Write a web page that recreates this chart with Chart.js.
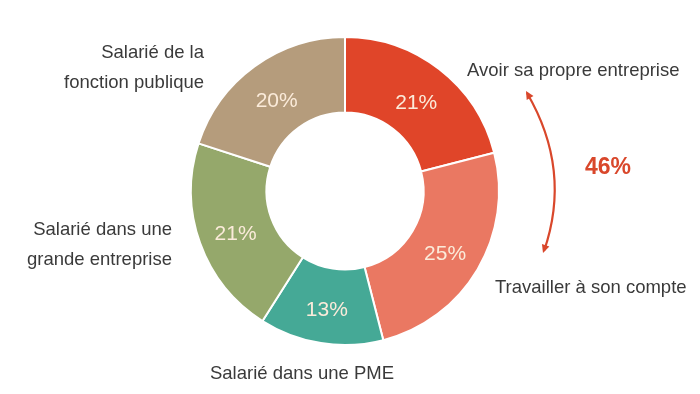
<!DOCTYPE html>
<html>
<head>
<meta charset="utf-8">
<script src="https://cdn.jsdelivr.net/npm/chart.js@4"></script>
<style>
  html, body { margin: 0; padding: 0; background: #fff; }
  #wrap { width: 700px; height: 394px; position: relative; }
</style>
</head>
<body>
<div id="wrap"><canvas id="donut"></canvas></div>
<script>
// --- données du graphique ---
const categories = [
    'Avoir sa propre entreprise',
    'Travailler à son compte',
    'Salarié dans une PME',
    'Salarié dans une grande entreprise',
    'Salarié de la fonction publique'
];
const values = [21, 25, 13, 21, 20];
const sliceColors = ['#E04529', '#EA7862', '#45A996', '#95A86B', '#B59C7C'];
const totalLabel = '46%'; // Avoir + Travailler

// étiquettes extérieures (texte sur plusieurs lignes)
const outsideLabels = [
    { lines: ['Avoir sa propre entreprise'], x: 467, y: 71, align: 'left' },
    { lines: ['Travailler à son compte'], x: 495, y: 288, align: 'left' },
    { lines: ['Salarié dans une PME'], x: 302, y: 374, align: 'center' },
    { lines: ['Salarié dans une', 'grande entreprise'], x: 172, y: 230, align: 'right' },
    { lines: ['Salarié de la', 'fonction publique'], x: 204, y: 53, align: 'right' }
];

const FONT = '"Liberation Sans", Arial, sans-serif';

// plugin : pourcentages + étiquettes + flèche
const labelPlugin = {
    id: 'labelPlugin',
    afterDatasetsDraw(chart) {
        const ctx = chart.ctx;
        const meta = chart.getDatasetMeta(0);
        ctx.save();

        // pourcentages dans les parts
        ctx.font = '21px ' + FONT;
        ctx.fillStyle = '#FBEBDA';
        ctx.textAlign = 'center';
        ctx.textBaseline = 'middle';
        meta.data.forEach((arc, i) => {
            const p = arc.tooltipPosition();
            ctx.fillText(values[i] + '%', p.x, p.y + 4);
        });

        // étiquettes extérieures
        ctx.font = '18.5px ' + FONT;
        ctx.fillStyle = '#3a3a3a';
        outsideLabels.forEach(lbl => {
            ctx.textAlign = lbl.align;
            lbl.lines.forEach((line, j) => {
                ctx.fillText(line, lbl.x, lbl.y + j * 30);
            });
        });

        // flèche courbe rouge
        const red = '#D9472B';
        ctx.strokeStyle = red;
        ctx.fillStyle = red;
        ctx.lineWidth = 2.2;
        const x0 = 527, y0 = 93, x1 = 544, y1 = 251, cx = 572, cy = 170;
        ctx.beginPath();
        ctx.moveTo(x0, y0);
        ctx.quadraticCurveTo(cx, cy, x1, y1);
        ctx.stroke();
        // pointes
        function head(x, y, ang) {
            ctx.beginPath();
            ctx.moveTo(x, y);
            ctx.lineTo(x + 9 * Math.cos(ang + 0.45), y + 9 * Math.sin(ang + 0.45));
            ctx.lineTo(x + 9 * Math.cos(ang - 0.45), y + 9 * Math.sin(ang - 0.45));
            ctx.closePath();
            ctx.fill();
        }
        head(x0 - 1, y0 - 2, Math.atan2(cy - y0, cx - x0));
        head(x1 - 1, y1 + 2, Math.atan2(cy - y1, cx - x1));

        ctx.font = 'bold 23px ' + FONT;
        ctx.textAlign = 'center';
        ctx.fillText(totalLabel, 608, 168);

        ctx.restore();
    }
};

new Chart(document.getElementById('donut'), {
    type: 'doughnut',
    data: {
        labels: categories,
        datasets: [{
            data: values,
            backgroundColor: sliceColors,
            borderColor: '#ffffff',
            borderWidth: 2
        }]
    },
    options: {
        responsive: true,
        maintainAspectRatio: false,
        animation: false,
        cutout: '51%',
        layout: { padding: { left: 190, right: 200, top: 36, bottom: 48 } },
        plugins: {
            legend: { display: false },
            tooltip: { enabled: false }
        }
    },
    plugins: [labelPlugin]
});
</script>
</body>
</html>
